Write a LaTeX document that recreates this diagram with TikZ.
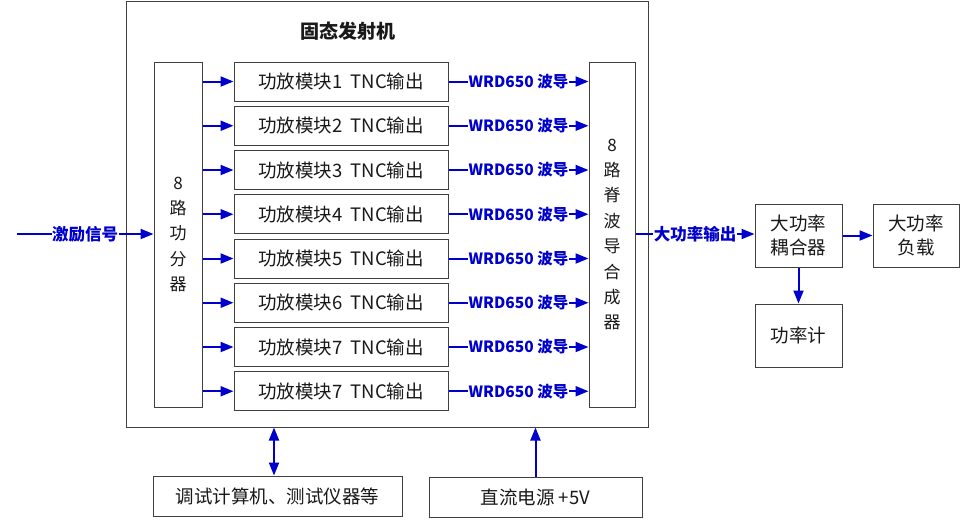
\documentclass[tikz,border=0pt]{standalone}
\usepackage{fontspec}
\setmainfont{Noto Sans CJK SC}
\usetikzlibrary{arrows.meta,calc}
\definecolor{arrblue}{RGB}{0,0,204}
\definecolor{boxgray}{RGB}{64,64,64}
\definecolor{txt}{RGB}{25,25,25}
\begin{document}
\begin{tikzpicture}[x=1pt,y=-1pt,
  box/.style={draw=boxgray,line width=1pt,fill=white,text=txt,inner sep=0pt,align=center,font=\fontsize{18.5}{24}\selectfont},
  modbox/.style={box,minimum width=214pt,minimum height=39pt},
  vbox/.style={box,minimum height=345pt,font=\fontsize{17}{25.4}\selectfont},
  arr/.style={draw=arrblue,line width=2pt,-{Triangle[length=13pt,width=10pt]}},
  darr/.style={draw=arrblue,line width=2pt,{Triangle[length=13pt,width=10pt]}-{Triangle[length=13pt,width=10pt]}},
  lbl/.style={fill=white,inner sep=0.5pt,text=arrblue,font=\bfseries\fontsize{16.5}{18}\selectfont},
  wlbl/.style={lbl,font=\bfseries\fontsize{15.5}{18}\selectfont}]
\useasboundingbox (0,0) rectangle (962,520);
% outer transmitter box
\node[draw=boxgray,line width=1pt,minimum width=522pt,minimum height=426pt,inner sep=0pt] (tx) at (387,214) {};
\node[font=\bfseries\fontsize{19}{20}\selectfont,text=txt] (title) at (348,31) {固态发射机};
% splitter and combiner
\node[vbox,minimum width=48pt] (split) at (178,234.5) {8\\路\\功\\分\\器};
\node[vbox,minimum width=46pt] (comb) at (612,234.5) {8\\路\\脊\\波\\导\\合\\成\\器};
% modules
\foreach \i/\n/\y in {1/1/81.5,2/2/125.75,3/3/170,4/4/214.25,5/5/258.5,6/6/302.75,7/7/347,8/7/391.25}{
  \node[modbox] (m\i) at (341,\y) {功放模块\n\ \ TNC输出};
  \draw[arr] (split.east |- m\i.west) -- (m\i.west);
  \draw[arr] (m\i.east) -- node[wlbl]{WRD650 波导} (comb.west |- m\i.east);
}
% input
\coordinate (in) at (17,234);
\draw[arr] (in) -- node[lbl]{激励信号} (split.west |- in);
% right side
\node[box,minimum width=87pt,minimum height=63pt] (coup) at (798.5,235.5) {大功率\\耦合器};
\node[box,minimum width=86pt,minimum height=63pt] (load) at (916,235.5) {大功率\\负载};
\node[box,minimum width=87pt,minimum height=63pt] (meter) at (798.5,335.5) {功率计};
\coordinate (outy) at (635,234);
\draw[arr] (comb.east |- outy) -- node[lbl]{大功率输出} (coup.west |- outy);
\draw[arr] (coup.east) -- (load.west);
\draw[arr] (coup.south) -- (meter.north);
% bottom
\node[box,minimum width=249pt,minimum height=40pt] (dbg) at (277.5,496) {调试计算机、测试仪器等};
\node[box,minimum width=213pt,minimum height=40pt] (pwr) at (535.5,497) {直流电源 +5V};
\draw[darr] ([xshift=-3.5pt]dbg.north) -- ([xshift=-3.5pt]dbg.north |- tx.south);
\draw[arr] (pwr.north) -- (pwr.north |- tx.south);
\end{tikzpicture}
\end{document}
